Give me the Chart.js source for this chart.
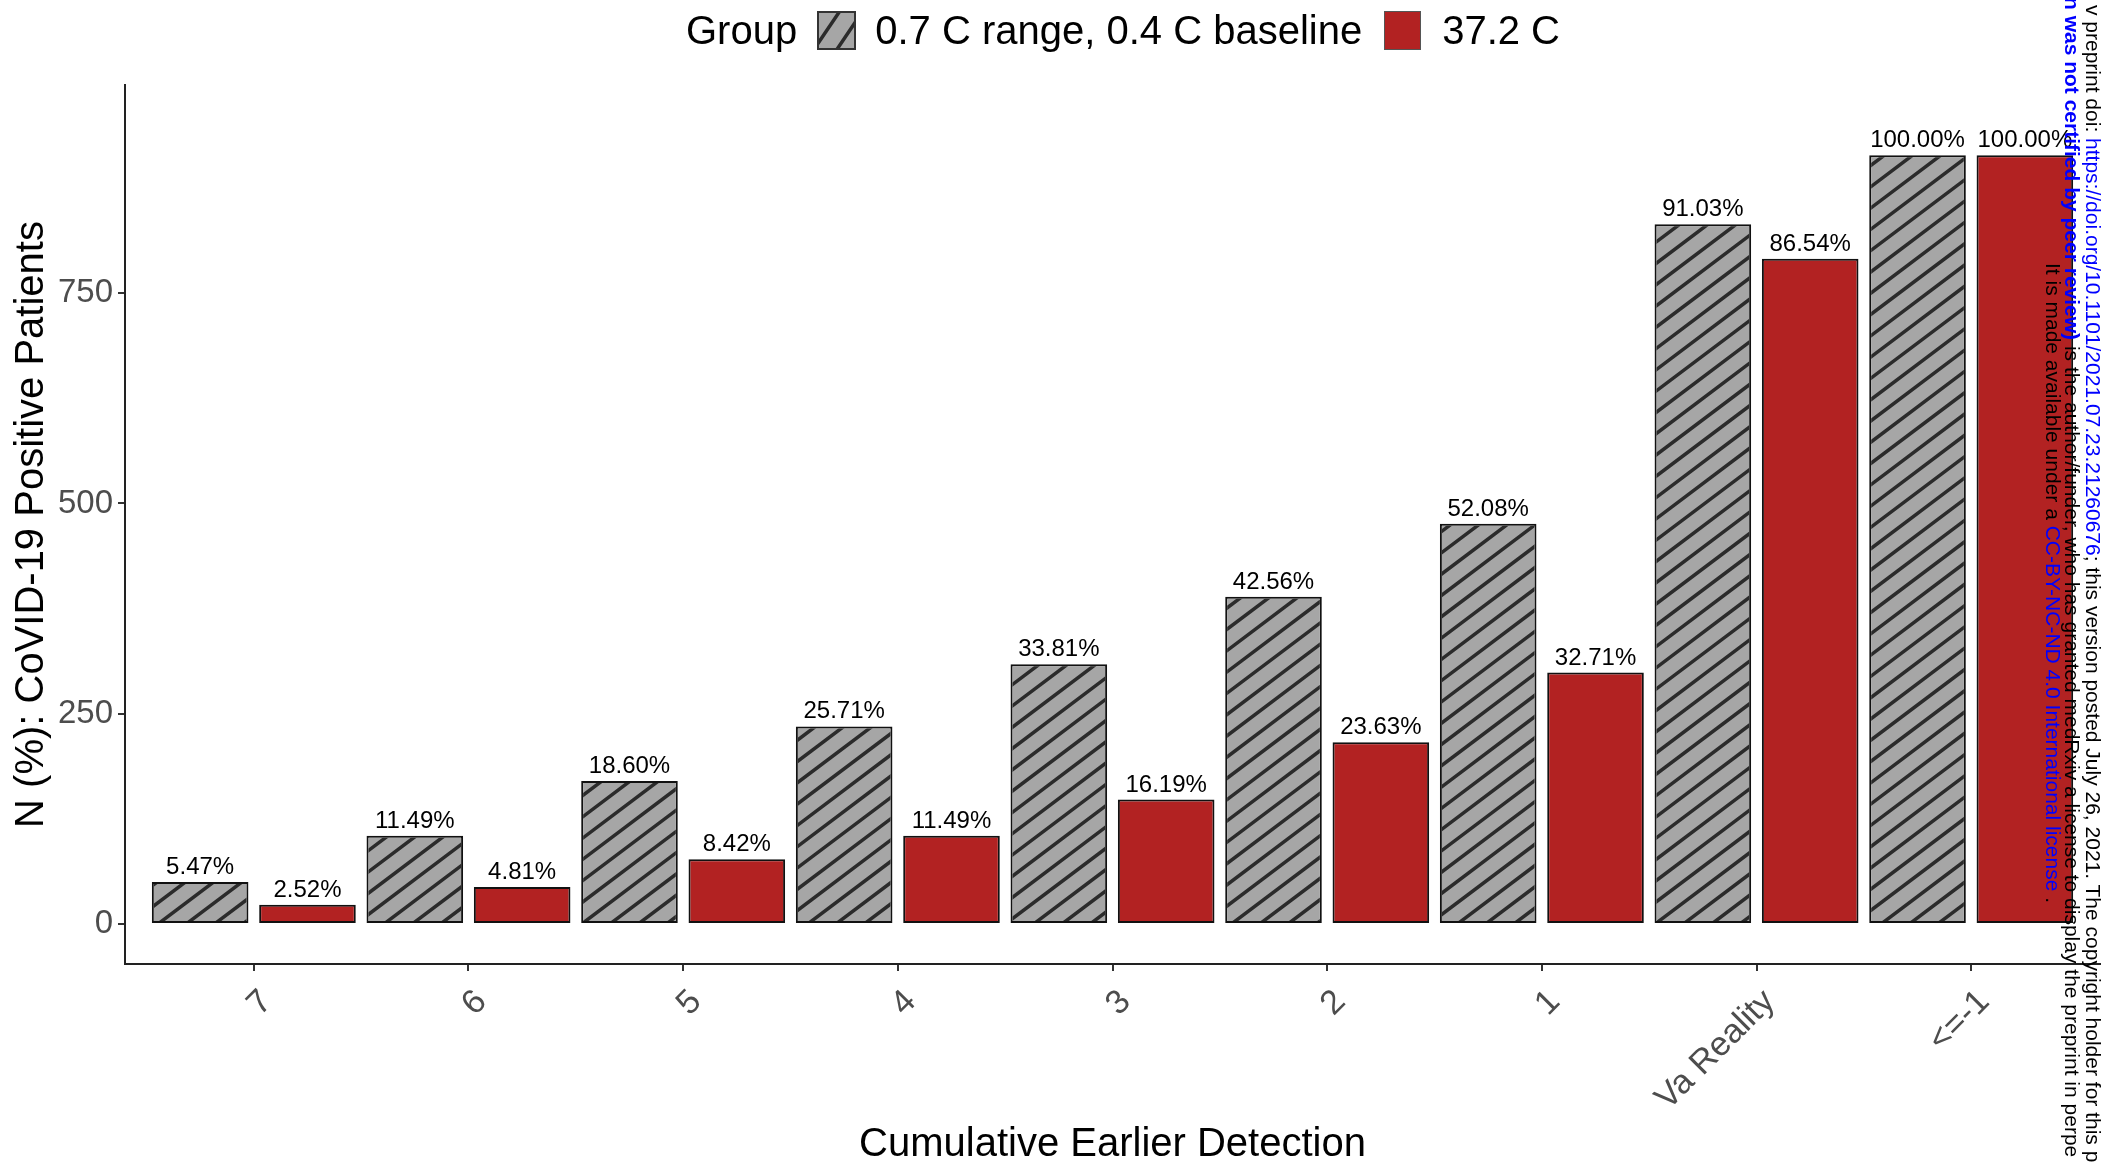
<!DOCTYPE html>
<html>
<head>
<meta charset="utf-8">
<title>Cumulative Earlier Detection</title>
<script src="https://cdn.jsdelivr.net/npm/chart.js@4.4.1/dist/chart.umd.min.js"></script>
<style>
  body { margin: 0; background: #fff; overflow: hidden; }
  #wrap { position: relative; width: 2107px; height: 1175px; }
  #legend {
    position: absolute; top: 10px; left: 686px; height: 40px;
    display: flex; align-items: center;
    font: 40px "Liberation Sans", Arial, sans-serif; color: #000; white-space: nowrap;
  }
  #legend canvas { display: block; }
  .wm {
    position: absolute; writing-mode: vertical-rl; white-space: nowrap;
    font: 21px "Liberation Sans", Arial, sans-serif; line-height: 20px; color: #000;
  }
  .blue { color: #0000ff; }
  .bold { font-weight: bold; }
</style>
</head>
<body>
<div id="wrap">
  <canvas id="chart" width="2107" height="1175"></canvas>
  <div id="legend">
    <span style="margin-right:20px">Group</span>
    <canvas id="keyGray" width="39" height="39" style="margin-right:19px"></canvas>
    <span style="margin-right:22px">0.7 C range, 0.4 C baseline</span>
    <canvas id="keyRed" width="37" height="39" style="margin-right:21px"></canvas>
    <span>37.2 C</span>
  </div>
  <div class="wm" style="left:2083px; top:5px">v preprint doi: <span class="blue">https://doi.org/10.1101/2021.07.23.21260676</span>; this version posted July 26, 2021. The copyright holder for this p</div>
  <div class="wm" style="left:2062px; top:-3px"><span class="blue bold">n was not certified by peer review)</span> is the author/funder, who has granted medRxiv a license to display the preprint in perpe</div>
  <div class="wm" style="left:2043px; top:263px">It is made available under a <span class="blue">CC-BY-NC-ND 4.0 International license</span> .</div>
</div>
<script>
// data (N = 914 patients per group)
const categories = ["7", "6", "5", "4", "3", "2", "1", "Va Reality", "<=-1"];
const rangeCounts = [50, 105, 170, 235, 309, 389, 476, 832, 914];
const feverCounts = [23, 44, 77, 105, 148, 216, 299, 791, 914];
const rangePct = ["5.47%", "11.49%", "18.60%", "25.71%", "33.81%", "42.56%", "52.08%", "91.03%", "100.00%"];
const feverPct = ["2.52%", "4.81%", "8.42%", "11.49%", "16.19%", "23.63%", "32.71%", "86.54%", "100.00%"];
const yTicks = [0, 250, 500, 750];

const FONT = '"Liberation Sans", Arial, sans-serif';
const GRAY = "#a6a6a6";
const RED = "#b22222";

// diagonal stripes like ggpattern
function hatch(ctx, x, y, w, h, angleDeg, spacing) {
  if (w <= 0 || h <= 0) return;
  ctx.save();
  ctx.beginPath();
  ctx.rect(x, y, w, h);
  ctx.clip();
  ctx.strokeStyle = "#2b2b2b";
  ctx.lineWidth = 3.5;
  const a = angleDeg * Math.PI / 180;
  const s = Math.sin(a), c = Math.cos(a);
  const proj = [x * s + y * c, (x + w) * s + y * c, x * s + (y + h) * c, (x + w) * s + (y + h) * c];
  const lo = Math.floor(Math.min(...proj) / spacing);
  const hi = Math.ceil(Math.max(...proj) / spacing);
  const L = 4000;
  ctx.beginPath();
  for (let k = lo; k <= hi; k++) {
    const px = s * k * spacing, py = c * k * spacing;
    ctx.moveTo(px - c * L, py + s * L);
    ctx.lineTo(px + c * L, py - s * L);
  }
  ctx.stroke();
  ctx.restore();
}

// legend keys
(function () {
  const g = document.getElementById("keyGray").getContext("2d");
  g.fillStyle = GRAY;
  g.fillRect(0, 0, 39, 39);
  hatch(g, 0, 0, 39, 39, 56, 19);
  g.strokeStyle = "#333";
  g.lineWidth = 2;
  g.strokeRect(1, 1, 37, 37);
  const r = document.getElementById("keyRed").getContext("2d");
  r.fillStyle = RED;
  r.fillRect(0, 0, 37, 39);
  r.strokeStyle = "#555";
  r.lineWidth = 1;
  r.strokeRect(0.5, 0.5, 36, 38);
})();

const hatchPlugin = {
  id: "hatchBars",
  afterDatasetDraw(chart, args) {
    if (args.index !== 0) return;
    const ctx = chart.ctx;
    const bw = 2;
    args.meta.data.forEach(function (bar) {
      const p = bar.getProps(["x", "y", "base", "width"], true);
      hatch(ctx, p.x - p.width / 2 + bw, p.y + bw, p.width - 2 * bw, p.base - p.y - 2 * bw, 37, 17);
    });
  }
};

const labelPlugin = {
  id: "barLabels",
  afterDatasetsDraw(chart) {
    const ctx = chart.ctx;
    ctx.save();
    ctx.font = "24px " + FONT;
    ctx.fillStyle = "#000";
    ctx.textAlign = "center";
    ctx.textBaseline = "alphabetic";
    chart.data.datasets.forEach(function (ds, i) {
      chart.getDatasetMeta(i).data.forEach(function (bar, j) {
        ctx.fillText(ds.pctLabels[j], bar.x, bar.y - 8);
      });
    });
    ctx.restore();
  }
};

new Chart(document.getElementById("chart"), {
  type: "bar",
  data: {
    datasets: [
      {
        label: "0.7 C range, 0.4 C baseline",
        data: rangeCounts.map((v, i) => ({ x: i, y: v })),
        pctLabels: rangePct,
        backgroundColor: GRAY,
        borderColor: "#111",
        borderWidth: 2,
        borderSkipped: false,
        categoryPercentage: 1.0,
        barPercentage: 0.9
      },
      {
        label: "37.2 C",
        data: feverCounts.map((v, i) => ({ x: i, y: v })),
        pctLabels: feverPct,
        backgroundColor: RED,
        borderColor: "#111",
        borderWidth: 2,
        borderSkipped: false,
        categoryPercentage: 1.0,
        barPercentage: 0.9
      }
    ]
  },
  options: {
    responsive: false,
    animation: false,
    layout: { padding: { top: 85, right: 7, left: 0, bottom: 0 } },
    plugins: {
      legend: { display: false },
      tooltip: { enabled: false }
    },
    scales: {
      x: {
        type: "linear",
        min: -0.6,
        max: 8.6,
        offset: false,
        afterBuildTicks: function (scale) {
          scale.ticks = categories.map((c, i) => ({ value: i }));
        },
        afterFit: function (scale) { scale.height = 211; },
        grid: { offset: false, drawOnChartArea: false, drawTicks: true, tickLength: 7, color: "#333", lineWidth: 2 },
        border: { display: true, color: "#222", width: 2 },
        ticks: {
          autoSkip: false,
          minRotation: 45,
          maxRotation: 45,
          padding: 11,
          labelOffset: 13,
          color: "#4d4d4d",
          font: { family: FONT, size: 34 },
          callback: function (value) { return categories[value]; }
        },
        title: {
          display: true,
          text: "Cumulative Earlier Detection",
          color: "#000",
          font: { family: FONT, size: 40 },
          padding: { top: 4, bottom: 6 }
        }
      },
      y: {
        min: -47.5,
        max: 997.5,
        afterBuildTicks: function (scale) {
          scale.ticks = yTicks.map(v => ({ value: v }));
        },
        afterFit: function (scale) { scale.width = 125; },
        grid: { drawOnChartArea: false, drawTicks: true, tickLength: 7, color: "#333", lineWidth: 2 },
        border: { display: true, color: "#222", width: 2 },
        ticks: {
          padding: 5,
          color: "#4d4d4d",
          font: { family: FONT, size: 33 }
        },
        title: {
          display: true,
          text: "N (%): CoVID-19 Positive Patients",
          color: "#000",
          font: { family: FONT, size: 40 },
          padding: { top: 8, bottom: 4 }
        }
      }
    }
  },
  plugins: [hatchPlugin, labelPlugin]
});
</script>
</body>
</html>
